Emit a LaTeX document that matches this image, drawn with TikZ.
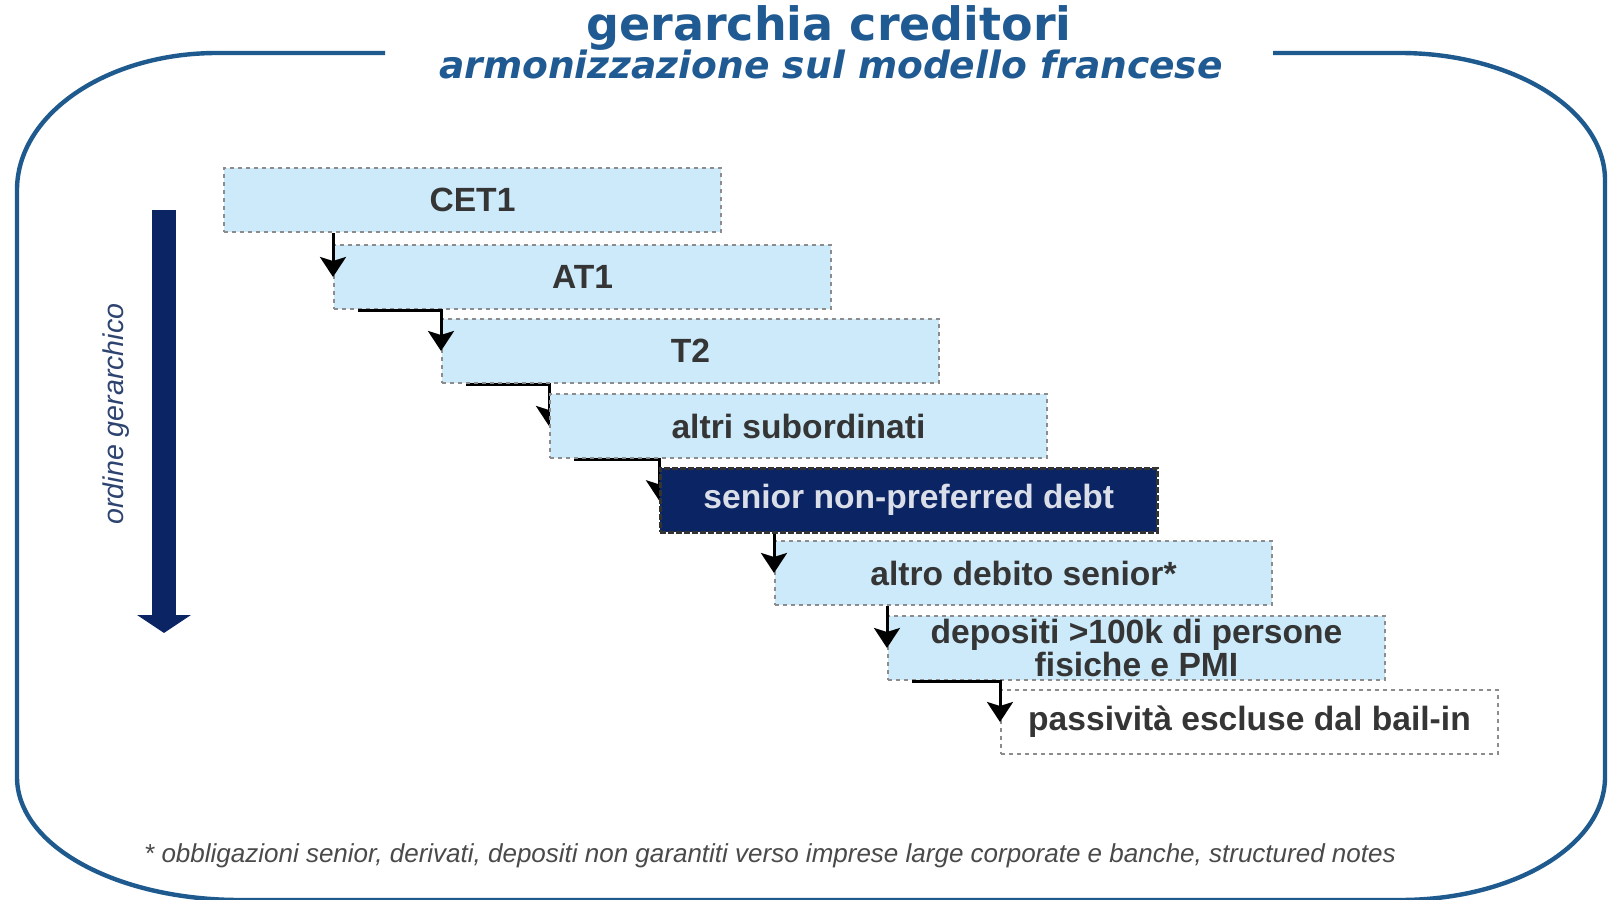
\documentclass[tikz,border=0pt]{standalone}
\usepackage{fontspec}
\setsansfont{Liberation Sans}
\newfontfamily\headfont{DejaVu Sans}
\usetikzlibrary{arrows.meta,backgrounds}
\definecolor{framebl}{HTML}{1E5A8E}
\definecolor{titlebl}{HTML}{1F5A92}
\definecolor{boxfill}{HTML}{CCEAFA}
\definecolor{navy}{HTML}{0B2463}
\definecolor{boxtxt}{HTML}{353535}
\definecolor{dotgray}{HTML}{8C8C8C}
\definecolor{lblblue}{HTML}{2E4470}
\definecolor{notegray}{HTML}{4A4A4A}

\begin{document}
\begin{tikzpicture}[x=0.5pt, y=-0.5pt, font=\sffamily,
    rank/.style={anchor=north west, minimum width=248.5pt, minimum height=32pt, inner sep=0pt,
      fill=boxfill, draw=dotgray, line width=1pt, dash pattern=on 2pt off 2pt,
      text=boxtxt, font=\sffamily\bfseries\fontsize{16.8}{15}\selectfont, align=center},
    snp/.style={rank, fill=navy, draw=black!80, dash pattern=on 3pt off 1pt, line width=1.3pt,
      text=white!85!navy},
    flow/.style={black, line width=1.5pt, -{Stealth[length=10pt,width=13pt,inset=2pt]}}]
      % page and frame
      \useasboundingbox (0,0) rectangle (1608,900);
      \begin{scope}[on background layer]
        \fill[white] (0,0) rectangle (1608,900);
      \end{scope}
      \draw[framebl, line width=2.2pt] (385,53) -- (217,53) .. controls (107,53) and (17,114) .. (17,190)
          -- (17,777) .. controls (17,846) and (117,900) .. (240,900) -- (1400,900)
          .. controls (1513,900) and (1605,846) .. (1605,777) -- (1605,180)
          .. controls (1605,110) and (1513,53) .. (1400,53) -- (1273,53);

      % titles
      \node[text=titlebl, font=\headfont\bfseries\fontsize{23}{23}\selectfont] (title) at (829,28) {gerarchia creditori};
      \node[text=titlebl, font=\headfont\bfseries\itshape\fontsize{18.8}{18.8}\selectfont] (subtitle) at (831,64) {armonizzazione sul modello francese};

      % hierarchy arrow
      \draw[navy, line width=12pt, -{Triangle[length=9pt,width=26.5pt]}] (164,210) -- (164,633);
      \node[rotate=90, text=lblblue, font=\sffamily\itshape\fontsize{14.3}{14.3}\selectfont] (ordine) at (116,414) {ordine gerarchico};

      % ranks
      \node[rank] (cet) at (223,167) {CET1};
      \node[rank] (at) at (333,244) {AT1};
      \node[rank] (tii) at (441,318) {T2};
      \node[rank] (sub) at (549,393) {altri subordinati};
      \node[snp] (npd) at (659,467) {senior non-preferred debt};
      \node[rank] (sen) at (774,540) {altro debito senior*};
      \node[rank] (dep) at (887,615) {depositi >100k di persone\\[-0.5pt]fisiche e PMI};
      \node[rank, fill=white] (escl) at (1000,689) {passività escluse dal bail-in};

      % connectors
      \draw[flow] (cet.south -| at.west) -- (at.west);
      \draw[flow] ([xshift=12.5pt]at.south west) -| (tii.west);
      \begin{scope}[on background layer]
        \draw[flow] ([xshift=12.5pt]tii.south west) -| (sub.west);
        \draw[flow] ([xshift=12.5pt]sub.south west) -| (npd.west);
      \end{scope}
      \draw[flow] (npd.south -| sen.west) -- (sen.west);
      \draw[flow] (sen.south -| dep.west) -- (dep.west);
      \draw[flow] ([xshift=12.5pt]dep.south west) -| (escl.west);

      % note
      \node[text=notegray, font=\sffamily\itshape\fontsize{13}{13}\selectfont] (nota) at (770,856) {* obbligazioni senior, derivati, depositi non garantiti verso imprese large corporate e banche, structured notes};
\end{tikzpicture}
\end{document}
